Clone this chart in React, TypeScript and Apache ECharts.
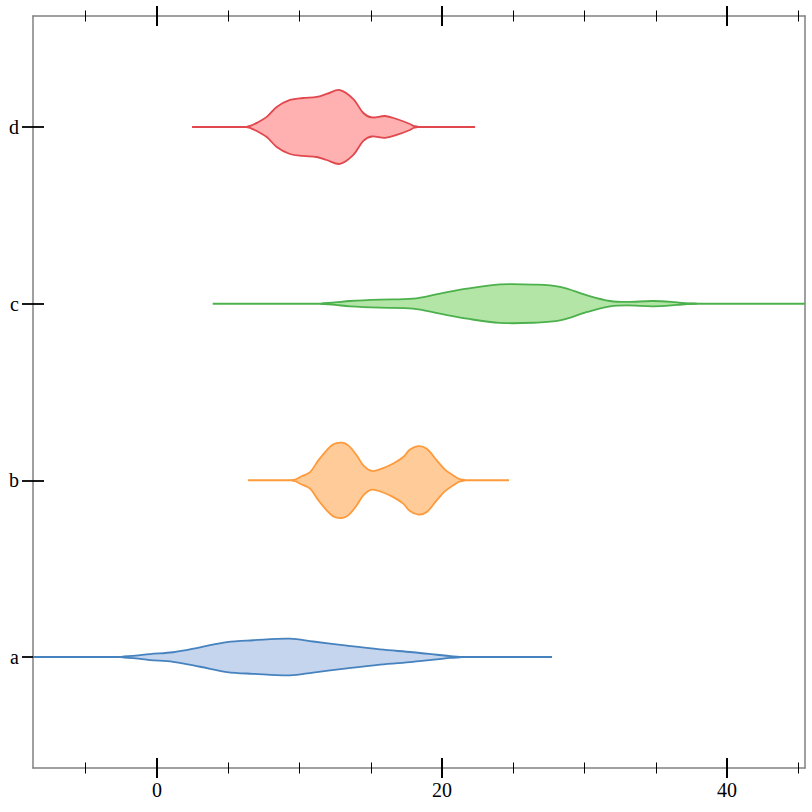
import React, { useEffect, useRef } from "react";
import * as echarts from "echarts";

// ---- data ----
const categories = ["a", "b", "c", "d"];
const whiskerLow = [-8.7, 6.39, 3.91, 2.46];
const whiskerHigh = [27.72, 24.7, 45.47, 22.32];

// density profiles: x positions and half-widths (in category units)
const profileXA = [-2.6, -1.5, -0.49, 1.12, 3.02, 4.91, 6.74, 9.33, 10.95, 13.33, 15.65, 17.96, 19.65, 20.6, 21.47];
const profileWA = [0, 0.008, 0.017, 0.027, 0.055, 0.085, 0.095, 0.104, 0.088, 0.064, 0.043, 0.027, 0.013, 0.005, 0];

const profileXB = [9.45, 9.75, 10.04, 10.74, 11.32, 11.91, 12.37, 12.96, 13.42, 14.01, 14.48, 15.07, 15.77, 16.58, 17.28, 17.75, 18.34, 18.93, 19.63, 20.21, 20.79, 21.2, 21.61];
const profileWB = [0, 0.006, 0.019, 0.047, 0.113, 0.17, 0.204, 0.213, 0.198, 0.142, 0.085, 0.053, 0.066, 0.095, 0.132, 0.174, 0.194, 0.179, 0.113, 0.061, 0.028, 0.008, 0];

const profileXC = [11.44, 12.5, 13.54, 15.65, 17.96, 19.86, 21.75, 24.07, 26.39, 28.28, 30.18, 31.79, 32.98, 34.81, 36.49, 37.2, 37.89];
const profileWC = [0, 0.007, 0.015, 0.023, 0.028, 0.057, 0.085, 0.109, 0.108, 0.095, 0.047, 0.015, 0.0096, 0.015, 0.0074, 0.002, 0];

const profileXD = [6.29, 6.6, 7.0, 7.7, 8.4, 9.33, 10.25, 11.21, 11.91, 12.84, 13.78, 14.48, 15.07, 16.0, 16.82, 17.75, 18.0, 18.34];
const profileWD = [0, 0.008, 0.023, 0.057, 0.113, 0.153, 0.164, 0.17, 0.187, 0.209, 0.158, 0.079, 0.054, 0.062, 0.045, 0.017, 0.006, 0];

const majorTicks = [0, 20, 40];
const minorTicks = [-5, 5, 10, 15, 25, 30, 35, 45];
const categoryTicks = [0, 1, 2, 3];

const strokeColors = ["#4682be", "#fe9a3c", "#4cb04c", "#e0484e"];
const fillColors = ["#c5d5ee", "#ffcc99", "#b3e6a6", "#ffb0b0"];

const profiles = [
  { x: profileXA, w: profileWA },
  { x: profileXB, w: profileWB },
  { x: profileXC, w: profileWC },
  { x: profileXD, w: profileWD },
];

const X_MIN = Math.min(...whiskerLow);
const X_MAX = Math.max(...whiskerHigh);
const Y_MIN = -0.628;
const Y_MAX = 3.628;

const FONT = "Liberation Serif";
const AXIS_GRAY = "#808080";

function xAxisDef(position: string, values: number[], inside: boolean, length: number, width: number, showLine: boolean, showLabel: boolean) {
  return {
    type: "value",
    position,
    min: X_MIN,
    max: X_MAX,
    axisLine: { show: showLine, onZero: false, lineStyle: { color: AXIS_GRAY, width: 1.5 } },
    axisTick: { show: true, inside, length, customValues: values, lineStyle: { color: "#000", width } },
    axisLabel: {
      show: showLabel,
      customValues: majorTicks,
      fontFamily: FONT,
      fontSize: 20,
      color: "#000",
      margin: 12,
    },
    splitLine: { show: false },
  };
}

function yAxisDef(position: string, inside: boolean, showTicks: boolean, showLine: boolean, showLabel: boolean) {
  return {
    type: "value",
    position,
    min: Y_MIN,
    max: Y_MAX,
    axisLine: { show: showLine, onZero: false, lineStyle: { color: AXIS_GRAY, width: 1.5 } },
    axisTick: { show: showTicks, inside, length: 11, customValues: categoryTicks, lineStyle: { color: "#000", width: 1.8 } },
    axisLabel: {
      show: showLabel,
      customValues: categoryTicks,
      formatter: (v: number) => categories[Math.round(v)] ?? "",
      fontFamily: FONT,
      fontSize: 20,
      color: "#000",
      margin: 14,
    },
    splitLine: { show: false },
  };
}

export default function App() {
  const ref = useRef<HTMLDivElement>(null);
  useEffect(() => {
    if (!ref.current) return;
    const chart = echarts.init(ref.current, null, { renderer: "svg" });
    const option = {
      animation: false,
      backgroundColor: "#fff",
      grid: { left: 33, right: 7, top: 16, bottom: 44, containLabel: false },
      xAxis: [
        xAxisDef("bottom", majorTicks, false, 10, 2, true, true),
        xAxisDef("bottom", majorTicks, true, 10, 2, false, false),
        xAxisDef("bottom", minorTicks, false, 5.5, 1, false, false),
        xAxisDef("bottom", minorTicks, true, 5.5, 1, false, false),
        xAxisDef("top", majorTicks, false, 10, 2, true, false),
        xAxisDef("top", majorTicks, true, 10, 2, false, false),
        xAxisDef("top", minorTicks, false, 5.5, 1, false, false),
        xAxisDef("top", minorTicks, true, 5.5, 1, false, false),
      ],
      yAxis: [
        yAxisDef("left", false, true, true, true),
        yAxisDef("left", true, true, false, false),
        yAxisDef("right", false, false, true, false),
      ],
      series: [
        {
          type: "custom",
          xAxisIndex: 0,
          yAxisIndex: 0,
          clip: false,
          encode: { x: 0, y: 1 },
          data: categories.map((_, i) => [whiskerLow[i], i]),
          renderItem: (params: any, api: any) => {
            const i = Math.round(api.value(1));
            const prof = profiles[i];
            const top = prof.x.map((x, k) => api.coord([x, i + prof.w[k]]));
            const bottom = prof.x
              .slice(1, -1)
              .map((x, k) => api.coord([x, i - prof.w[k + 1]]))
              .reverse();
            const p1 = api.coord([whiskerLow[i], i]);
            const p2 = api.coord([whiskerHigh[i], i]);
            return {
              type: "group",
              children: [
                {
                  type: "line",
                  shape: { x1: p1[0], y1: p1[1], x2: p2[0], y2: p2[1] },
                  style: { stroke: strokeColors[i], lineWidth: 2 },
                },
                {
                  type: "polygon",
                  shape: { points: [...top, ...bottom], smooth: 0.35 },
                  style: { fill: fillColors[i], stroke: strokeColors[i], lineWidth: 1.8 },
                },
              ],
            };
          },
        },
      ],
    };
    chart.setOption(option as any);
    return () => chart.dispose();
  }, []);
  return <div ref={ref} style={{ position: "fixed", left: 0, top: 0, width: 812, height: 812 }} />;
}
